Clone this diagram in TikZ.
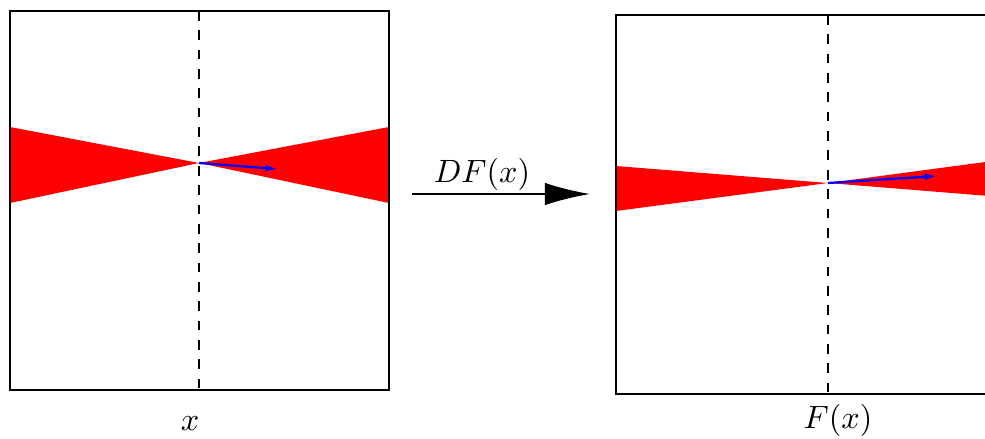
\documentclass[tikz,border=0pt]{standalone}
\usepackage{amsmath,amssymb}
\usepackage{tikz}
\usetikzlibrary{arrows.meta,positioning,calc}
\usepackage{xcolor}

\begin{document}
\begin{tikzpicture}[x=0.31pt,y=-0.31pt,>=Latex,font=\normalsize]
\useasboundingbox (0,0) rectangle (985,439);
\clip (0,0) rectangle (985,439);
% left box: point x
\coordinate (cx) at (199,163);
\fill[red] (10,127) -- (cx) -- (10,203) -- cycle;
\fill[red] (389,127) -- (cx) -- (389,203) -- cycle;
\draw[line width=0.4pt,dashed] (199,11) -- (199,390);
\draw[line width=0.8pt] (10,11) rectangle (389,390);
\draw[blue,line width=0.7pt,-{Latex[length=3.8pt,width=2.2pt]}] (cx) -- (278,169);
\node (lx) at (190,424) {$x$};

% the map
\coordinate (mapstart) at (412,194);
\coordinate (mapend) at (590,194);
\draw[line width=0.6pt,-{Latex[length=14pt,width=7pt]}] (mapstart) -- (mapend);
\node (ldf) at (482,174) {$DF(x)$};

% right box: image F(x)
\coordinate (cfx) at (828,183);
\fill[red] (616,166) -- (cfx) -- (616,211) -- cycle;
\fill[red] (995,196.5) -- (cfx) -- (995,160.7) -- cycle;
\draw[line width=0.4pt,dashed] (828,15) -- (828,394);
\draw[line width=0.8pt] (616,15) rectangle (995,394);
\draw[blue,line width=0.7pt,-{Latex[length=3.8pt,width=2.2pt]}] (cfx) -- (937,176);
\node (lfx) at (838,420) {$F(x)$};
\end{tikzpicture}
\end{document}
